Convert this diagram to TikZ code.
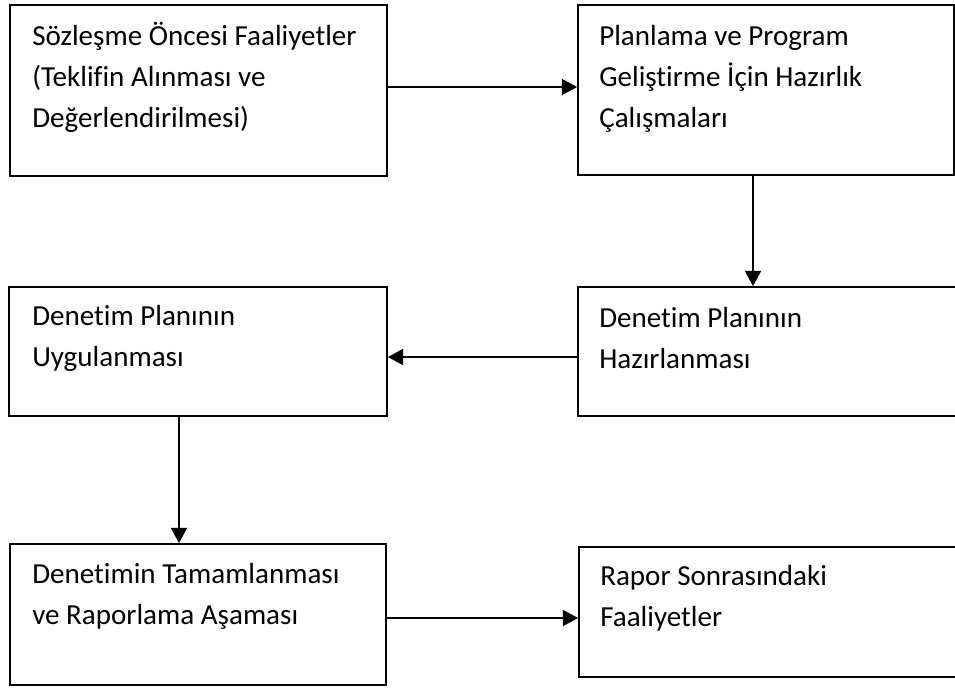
\documentclass[tikz,border=0pt]{standalone}
\usepackage{fontspec}
\setmainfont[Ligatures=NoCommon]{Carlito}
\usetikzlibrary{arrows.meta,fit}

\tikzset{
  stagebox/.style={draw=black, line width=1.3pt, inner sep=0pt, rectangle},
  stagetext/.style={anchor=base west, inner sep=0pt,
    font=\fontsize{21.8}{30.75}\selectfont},
  flow/.style={draw=black, line width=1.5pt,
    -{Triangle[length=11.5pt,width=12pt]}}
}
\newcommand{\stagelines}[1]{\parbox[t]{330pt}{\raggedright #1}}

\begin{document}
\begin{tikzpicture}[x=0.75pt, y=-0.75pt]
  \useasboundingbox (0,0) rectangle (955,687);

  % stage frames
  \node[stagebox, fit={(10,5) (387,176)}] (b1) {};
  \node[stagebox, fit={(578,5) (954,175)}] (b2) {};
  \node[stagebox, fit={(9,287) (387,416)}] (b3) {};
  \node[stagebox, fit={(578,287) (960,416)}] (b4) {};
  \node[stagebox, fit={(10,544) (386,685)}] (b5) {};
  \node[stagebox, fit={(579,547) (960,677)}] (b6) {};

  % stage labels
  \node[stagetext] (t1) at (32,45) {\stagelines{Sözleşme Öncesi Faaliyetler\\(Teklifin Alınması ve\\Değerlendirilmesi)}};
  \node[stagetext] (t2) at (599,45) {\stagelines{Planlama ve Program\\Geliştirme İçin Hazırlık\\Çalışmaları}};
  \node[stagetext] (t3) at (32,325) {\stagelines{Denetim Planının\\Uygulanması}};
  \node[stagetext] (t4) at (599,327) {\stagelines{Denetim Planının\\Hazırlanması}};
  \node[stagetext] (t5) at (32,583) {\stagelines{Denetimin Tamamlanması\\ve Raporlama Aşaması}};
  \node[stagetext] (t6) at (600,585) {\stagelines{Rapor Sonrasındaki\\Faaliyetler}};

  % connector guide lines
  \coordinate (r1) at (0,87);
  \coordinate (c2) at (753,0);
  \coordinate (r3) at (0,357);
  \coordinate (c4) at (179,0);
  \coordinate (r5) at (0,618);

  % flow between stages
  \draw[flow] (b1.east |- r1) -- (b2.west |- r1);
  \draw[flow] (b2.south -| c2) -- (b4.north -| c2);
  \draw[flow] (b4.west |- r3) -- (b3.east |- r3);
  \draw[flow] (b3.south -| c4) -- (b5.north -| c4);
  \draw[flow] (b5.east |- r5) -- (b6.west |- r5);
\end{tikzpicture}
\end{document}
